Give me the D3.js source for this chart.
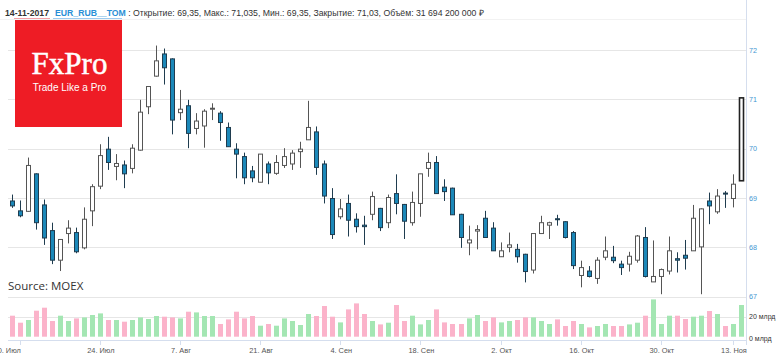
<!DOCTYPE html>
<html><head><meta charset="utf-8">
<script src="https://cdn.jsdelivr.net/npm/d3@7"></script>
<style>html,body{margin:0;padding:0;background:#fff;}svg{display:block;}</style>
</head><body>
<script>
// ---------- DATA ----------
const dates = [
"2017-07-07",
"2017-07-10","2017-07-11","2017-07-12","2017-07-13","2017-07-14",
"2017-07-17","2017-07-18","2017-07-19","2017-07-20","2017-07-21",
"2017-07-24","2017-07-25","2017-07-26","2017-07-27","2017-07-28",
"2017-07-31","2017-08-01","2017-08-02","2017-08-03","2017-08-04",
"2017-08-07","2017-08-08","2017-08-09","2017-08-10","2017-08-11",
"2017-08-14","2017-08-15","2017-08-16","2017-08-17","2017-08-18",
"2017-08-21","2017-08-22","2017-08-23","2017-08-24","2017-08-25",
"2017-08-28","2017-08-29","2017-08-30","2017-08-31","2017-09-01",
"2017-09-04","2017-09-05","2017-09-06","2017-09-07","2017-09-08",
"2017-09-11","2017-09-12","2017-09-13","2017-09-14","2017-09-15",
"2017-09-18","2017-09-19","2017-09-20","2017-09-21","2017-09-22",
"2017-09-25","2017-09-26","2017-09-27","2017-09-28","2017-09-29",
"2017-10-02","2017-10-03","2017-10-04","2017-10-05","2017-10-06",
"2017-10-09","2017-10-10","2017-10-11","2017-10-12","2017-10-13",
"2017-10-16","2017-10-17","2017-10-18","2017-10-19","2017-10-20",
"2017-10-23","2017-10-24","2017-10-25","2017-10-26","2017-10-27",
"2017-10-30","2017-10-31","2017-11-01","2017-11-02","2017-11-03",
"2017-11-07","2017-11-08","2017-11-09","2017-11-10",
"2017-11-13","2017-11-14"];

const opens = [68.94,68.74,68.73,69.49,68.86,68.34,67.74,68.28,68.30,67.99,
68.74,69.24,69.99,69.64,69.67,69.60,69.97,70.85,71.47,71.92,
71.82,70.73,70.87,70.41,70.46,70.80,70.72,70.43,69.99,69.84,
69.55,69.32,69.69,69.50,69.66,69.69,69.94,70.18,70.34,69.69,
68.99,68.62,68.89,68.57,68.45,68.67,68.79,68.50,69.09,68.87,
68.50,68.89,69.60,69.72,69.22,69.20,68.67,68.09,68.33,68.59,
68.39,67.81,68.00,67.96,67.86,67.54,68.28,68.45,68.58,68.52,
68.30,67.43,67.52,67.37,67.80,67.80,67.66,67.66,67.74,68.20,
67.30,67.41,67.52,67.77,67.84,67.93,68.01,68.94,68.72,69.10,
68.99,69.35];
const highs = [69.07,68.95,69.82,69.50,68.97,68.50,68.16,68.55,68.40,68.81,
69.28,70.09,70.24,69.89,69.76,70.09,70.99,71.26,72.09,72.03,
71.83,71.19,70.99,70.72,70.80,70.92,70.76,70.53,70.11,69.92,
69.65,69.89,69.74,69.87,70.01,69.97,70.14,70.97,70.45,69.76,
69.20,68.98,69.07,68.69,68.64,69.13,68.80,69.07,69.48,68.88,
69.13,69.49,69.92,69.85,69.38,69.21,68.68,68.44,68.45,68.74,
68.51,68.10,68.30,68.07,67.87,68.28,68.64,68.52,68.66,68.53,
68.33,67.73,67.62,67.80,68.22,68.03,67.73,67.91,68.25,68.41,
68.14,67.57,68.22,67.90,68.15,68.86,68.79,69.11,69.18,69.14,
69.48,71.035];
const lows = [68.80,68.61,68.72,68.36,68.05,67.66,67.52,68.08,67.88,67.96,
68.43,69.18,69.57,69.36,69.20,69.50,69.96,70.70,71.46,71.30,
70.29,70.58,70.01,70.29,70.02,70.58,70.16,70.04,69.40,69.28,
69.32,69.32,69.28,69.47,69.61,69.57,69.61,70.18,69.47,68.89,
68.17,68.57,68.22,68.30,68.05,68.55,68.33,68.39,68.67,68.17,
68.44,68.62,69.43,69.09,68.94,68.66,67.99,67.84,67.96,68.20,
67.93,67.81,67.90,67.69,67.29,67.47,68.28,68.17,68.44,68.18,
67.56,67.19,67.39,67.26,67.74,67.68,67.44,67.51,67.69,67.39,
67.30,67.05,67.45,67.49,67.55,67.93,67.05,68.47,68.68,68.80,
68.81,69.35];
const closes = [68.84,68.64,69.66,68.50,68.19,67.74,68.16,68.39,67.91,68.57,
69.23,69.86,69.72,69.70,69.49,70.01,70.74,71.26,71.78,71.64,
70.58,70.80,70.31,70.56,70.76,70.82,70.53,70.04,69.89,69.41,
69.41,69.89,69.51,69.72,69.84,69.91,69.99,70.43,69.62,69.04,
68.26,68.78,68.55,68.42,68.42,69.03,68.40,69.01,68.89,68.53,
68.91,69.49,69.72,69.09,69.13,68.66,68.20,68.15,68.36,68.20,
67.93,67.93,68.05,67.81,67.51,68.28,68.50,68.50,68.56,68.20,
67.63,67.59,67.41,67.74,67.93,67.73,67.59,67.82,68.23,67.41,
67.41,67.55,67.93,67.74,67.78,68.59,68.78,68.84,69.04,69.09,
69.28,71.03];
// volume, billions of rubles
const volumes = [21,14,16.7,26,29,15.7,21,15.7,18.3,19.3,
21.7,23.3,16.7,16.7,15,16.7,19.3,17.7,20.7,20,
19.3,18.3,25,24.3,20.7,20.7,12.7,17.3,25,18.3,
20.7,11,12.7,11,18.3,15.7,11.7,22.7,20.7,30.7,
20,14.3,27.3,33.3,22.7,15.7,12.3,14,31.7,15.7,
21,12.3,16.7,27.3,14.3,12.7,12.7,18.3,21.7,15.7,
19.3,14.3,15.7,16.7,19.3,19.3,15.7,12.7,17.3,10.7,
15.7,12.7,9.3,10.7,12.7,10.7,10.7,12.3,14,21,
37.3,12.7,21,21,17.7,20,21,25.7,22.7,10.7,
12.7,31.6942];

const priceTicks = [67,68,69,70,71,72];
const volumeTicks = [0,20];
const volumeTickLabels = ["0 млрд","20 млрд"];
const tickDates = ["2017-07-10","2017-07-24","2017-08-07","2017-08-21","2017-09-04","2017-09-18","2017-10-02","2017-10-16","2017-10-30","2017-11-13"];
const tickLabels = ["10. Июл","24. Июл","7. Авг","21. Авг","4. Сен","18. Сен","2. Окт","16. Окт","30. Окт","13. Ноя"];
const headerDate = "14-11-2017";
const ticker = "EUR_RUB__TOM";
const source = "Source: MOEX";

// ---------- LAYOUT ----------
const W = 782, H = 356;
const plotLeft = 8, plotRight = 746;
const svg = d3.select("body").append("svg").attr("width", W).attr("height", H)
  .style("font-family", "'Liberation Sans', Arial, sans-serif");

const x = d3.scalePoint().domain(dates).range([11.7, 741]);
const y = d3.scaleLinear().domain([67, 72]).range([296.7, 50]);
const yv = d3.scaleLinear().domain([0, 20]).range([336.7, 316.7]);

const UP_STROKE = "#555", DOWN_FILL = "#1b88b9", DOWN_STROKE = "#1f3c4f";
const VOL_UP = "#a4e6b3", VOL_DOWN = "#fbb3ca";

// grid lines
svg.append("g").selectAll("line").data(priceTicks).join("line")
  .attr("x1", plotLeft).attr("x2", plotRight)
  .attr("y1", d => Math.round(y(d)) + 0.5).attr("y2", d => Math.round(y(d)) + 0.5)
  .attr("stroke", "#e6e6e6");
svg.append("g").selectAll("line").data(volumeTicks.filter(d => d > 0)).join("line")
  .attr("x1", plotLeft).attr("x2", plotRight)
  .attr("y1", d => Math.round(yv(d)) + 0.5).attr("y2", d => Math.round(yv(d)) + 0.5)
  .attr("stroke", "#e6e6e6");

// header
const last = dates.length - 1;
const fmtNum = v => String(v).replace(".", ",");
const volRub = Math.round(volumes[last] * 1e9);
const volStr = d3.format(",")(volRub).replace(/,/g, " ");
const rest = ` : Открытие: ${fmtNum(opens[last])}, Макс.: ${fmtNum(highs[last])}, Мин.: ${fmtNum(lows[last])}, Закрытие: ${fmtNum(closes[last])}, Объём: ${volStr} ₽`;
const hdr = svg.append("text").attr("x", 5).attr("y", 15.5).attr("font-size", 8.7).attr("fill", "#333");
hdr.append("tspan").attr("font-weight", "bold").attr("fill", "#333").text(headerDate);
hdr.append("tspan").attr("font-weight", "bold").attr("fill", "#2a8fd6").attr("dx", 6).text(ticker);
hdr.append("tspan").attr("fill", "#333").text(rest);
svg.append("line").attr("x1", 14).attr("x2", 50).attr("y1", 18.5).attr("y2", 18.5).attr("stroke", "#f4a0a8");
svg.append("line").attr("x1", 53).attr("x2", 122).attr("y1", 18.5).attr("y2", 18.5).attr("stroke", "#9ccaf0");
svg.append("line").attr("x1", 0).attr("x2", plotRight).attr("y1", 19.5).attr("y2", 19.5).attr("stroke", "#f2f2f2");

// logo
svg.append("rect").attr("x", 15).attr("y", 20).attr("width", 107).attr("height", 107).attr("fill", "#ee1c25");
svg.append("text").attr("x", 69.5).attr("y", 74).attr("text-anchor", "middle")
  .attr("font-family", "'Liberation Serif', 'Times New Roman', serif").attr("font-size", 31)
  .attr("fill", "#fff").attr("stroke", "#fff").attr("stroke-width", 0.5).text("FxPro");
svg.append("text").attr("x", 69.5).attr("y", 90.5).attr("text-anchor", "middle")
  .attr("font-family", "'Liberation Sans', Arial, sans-serif").attr("font-size", 10)
  .attr("fill", "#fff").text("Trade Like a Pro");

// source
svg.append("text").attr("x", 8).attr("y", 290).attr("font-family", "'Open Sans', sans-serif")
  .attr("font-size", 11.5).attr("fill", "#333").text(source);

// volume bars
svg.append("g").selectAll("rect").data(dates).join("rect")
  .attr("x", (d) => Math.round(x(d)) - 2)
  .attr("width", 5)
  .attr("y", (d, i) => yv(volumes[i]))
  .attr("height", (d, i) => yv(0) - yv(volumes[i]))
  .attr("fill", (d, i) => closes[i] >= opens[i] ? VOL_UP : VOL_DOWN);

// candles
const cg = svg.append("g").selectAll("g").data(dates).join("g");
cg.append("line")
  .attr("x1", d => Math.round(x(d)) + 0.5).attr("x2", d => Math.round(x(d)) + 0.5)
  .attr("y1", (d, i) => y(highs[i])).attr("y2", (d, i) => y(lows[i]))
  .attr("stroke", (d, i) => closes[i] >= opens[i] ? UP_STROKE : DOWN_STROKE);
cg.append("rect")
  .attr("x", d => Math.round(x(d)) - 1.5)
  .attr("width", 4)
  .attr("y", (d, i) => y(Math.max(opens[i], closes[i])))
  .attr("height", (d, i) => Math.max(1, Math.abs(y(opens[i]) - y(closes[i]))))
  .attr("fill", (d, i) => closes[i] >= opens[i] ? "#fff" : DOWN_FILL)
  .attr("stroke", (d, i) => i === last ? "#222" : (closes[i] >= opens[i] ? UP_STROKE : DOWN_STROKE))
  .attr("stroke-width", (d, i) => i === last ? 1.6 : 1);

// right axis line
svg.append("line").attr("x1", plotRight + 0.5).attr("x2", plotRight + 0.5).attr("y1", 0).attr("y2", 345)
  .attr("stroke", "#d5deee");

// price labels
svg.append("g").selectAll("text").data(priceTicks).join("text")
  .attr("x", 749).attr("y", d => y(d)).attr("dy", "0.35em")
  .attr("font-size", 7.2).attr("fill", "#4497d2").text(d => d);
// volume labels
svg.append("g").selectAll("text").data(volumeTicks).join("text")
  .attr("x", 749).attr("y", d => yv(d) + (d === 0 ? 1.5 : 0)).attr("dy", "0.35em")
  .attr("font-size", 7).attr("fill", "#333").text((d, i) => volumeTickLabels[i]);

// x axis
svg.append("line").attr("x1", plotLeft).attr("x2", plotRight).attr("y1", 340.5).attr("y2", 340.5).attr("stroke", "#d5deee");
svg.append("g").selectAll("line").data(tickDates).join("line")
  .attr("x1", d => Math.round(x(d)) + 0.5).attr("x2", d => Math.round(x(d)) + 0.5)
  .attr("y1", 340).attr("y2", 345).attr("stroke", "#d5deee");
svg.append("g").selectAll("text").data(tickDates).join("text")
  .attr("x", (d, i) => x(d) + (i === 0 ? -12.5 : 1))
  .attr("y", 353).attr("text-anchor", "middle")
  .attr("font-size", 7.4).attr("fill", "#555").text((d, i) => tickLabels[i]);
</script>
</body></html>
